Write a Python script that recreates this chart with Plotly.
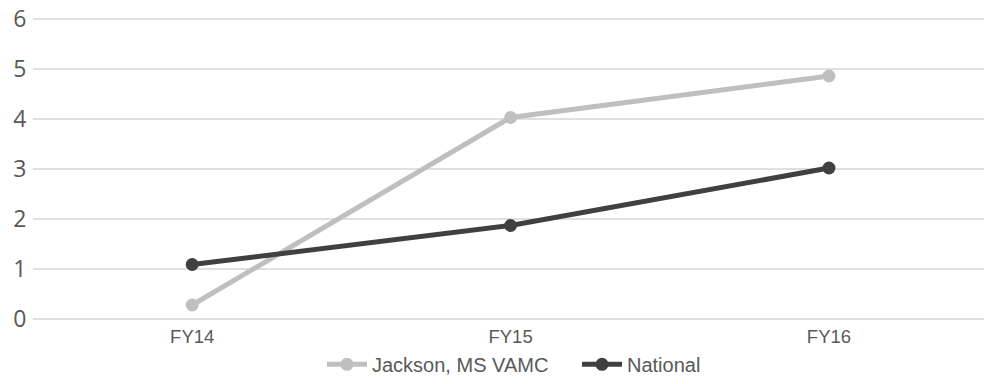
import plotly.graph_objects as go

categories = ["FY14", "FY15", "FY16"]
jackson = [0.28, 4.03, 4.86]
national = [1.09, 1.87, 3.02]
y_ticks = [0, 1, 2, 3, 4, 5, 6]

fig = go.Figure()
fig.add_trace(go.Scatter(
    x=categories, y=jackson, name="Jackson, MS VAMC", mode="lines+markers",
    line=dict(color="#bfbfbf", width=5), marker=dict(size=13, color="#bfbfbf"),
    legend="legend",
))
fig.add_trace(go.Scatter(
    x=categories, y=national, name="National", mode="lines+markers",
    line=dict(color="#404040", width=5), marker=dict(size=13, color="#404040"),
    legend="legend2",
))

legend_common = dict(orientation="h", y=-0.145, yanchor="middle", xanchor="left",
                     font=dict(size=20, color="#595959"), itemwidth=40,
                     bgcolor="rgba(0,0,0,0)")

fig.update_layout(
    width=984, height=384,
    margin=dict(l=33, r=0, t=14, b=62),
    paper_bgcolor="white", plot_bgcolor="white",
    font=dict(family="Liberation Sans, Arial, sans-serif", color="#595959"),
    showlegend=True,
    legend=dict(x=(322 - 33) / 951, **legend_common),
    legend2=dict(x=(577 - 33) / 951, **legend_common),
    xaxis=dict(type="category", range=[-0.5, 2.487], showgrid=False, zeroline=False,
               showline=False, automargin=False, tickfont=dict(size=18.5, color="#595959"),
               ticks="outside", ticklen=0, tickcolor="rgba(0,0,0,0)"),
    yaxis=dict(range=[-0.02, 6.1], tickvals=y_ticks, showgrid=True, gridcolor="#e0e0e0",
               gridwidth=2, zeroline=True, zerolinecolor="#e0e0e0", zerolinewidth=2,
               showline=False, automargin=False,
               tickfont=dict(family="Open Sans, sans-serif", size=23, color="#595959"),
               ticks="outside", ticklen=1, tickcolor="rgba(0,0,0,0)"),
)

fig.write_html(
    "out.html",
    config={"displayModeBar": False},
    post_script="document.body.style.margin='0';document.body.style.overflow='hidden';",
)
